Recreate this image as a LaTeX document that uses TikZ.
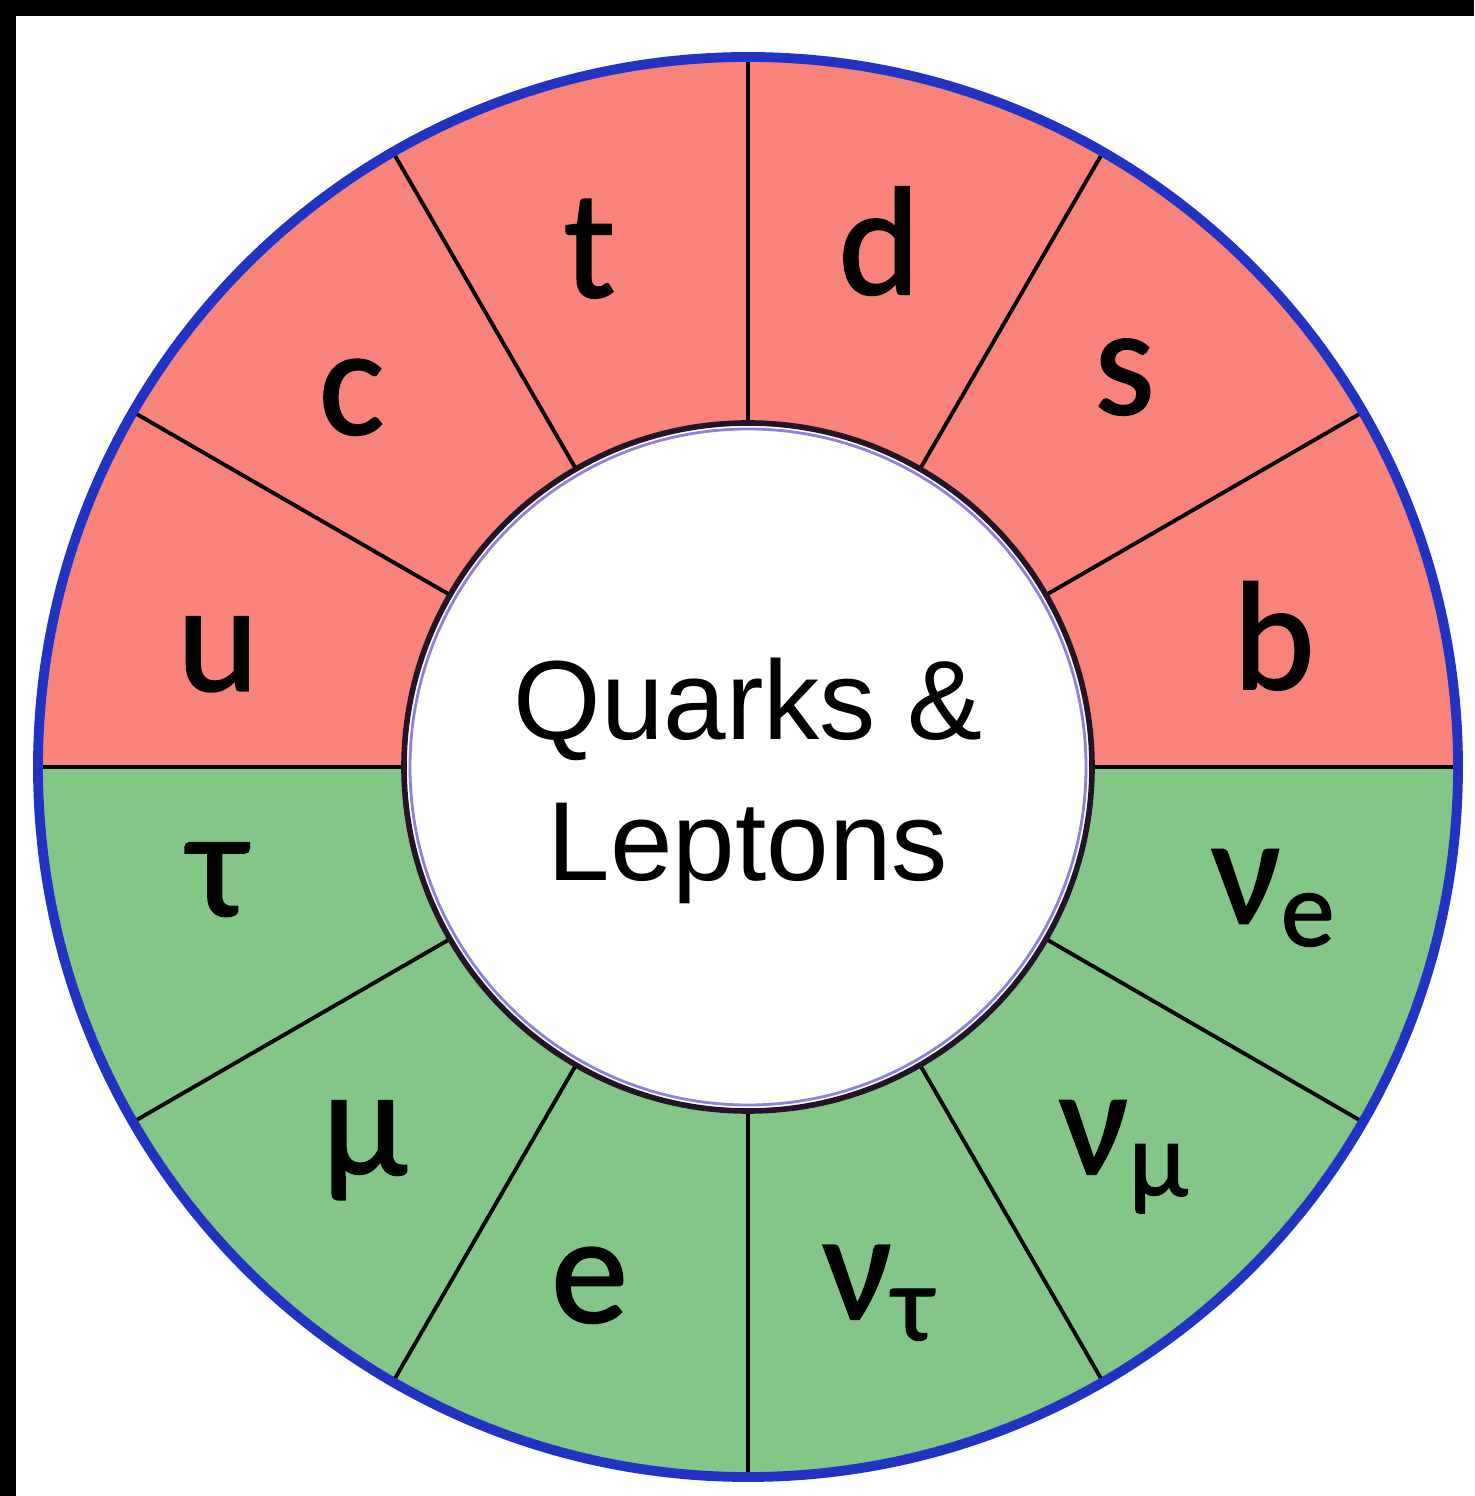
\documentclass[tikz,border=0pt]{standalone}
\usepackage{fontspec}
\setmainfont{Liberation Sans}
\newfontfamily\partfont[FakeBold=1.2]{Carlito}
\usetikzlibrary{calc}
\definecolor{QuarkRed}{HTML}{F8837A}
\definecolor{LeptonGreen}{HTML}{84C688}
\definecolor{RimBlue}{HTML}{2233C4}
\definecolor{HubEdge}{HTML}{24142A}
\definecolor{HubHalo}{HTML}{8C82D8}
\tikzset{
  % ring sector fill
  wedge/.style={fill=#1, draw=none},
  % spoke between sectors
  spoke/.style={draw=black, line width=1.1pt},
  % particle symbol
  sym/.style={font=\partfont\fontsize{44}{44}\selectfont,
    text=black, inner sep=0pt},
  % centre title
  hub/.style={font=\fontsize{32}{40}\selectfont, align=center, inner sep=0pt}
}

\begin{document}
\begin{tikzpicture}

  \useasboundingbox (-7.48,-7.29) rectangle (7.26,7.67);

  % frame edges (top and left)
  \fill[black] (-7.48,7.51) rectangle (7.26,7.67);
  \fill[black] (-7.48,-7.29) rectangle (-7.32,7.67);

  % quark half and lepton half
  \fill[wedge=QuarkRed] (0:3.44) -- (0:7.10) arc (0:180:7.10) -- (180:3.44) arc (180:0:3.44) -- cycle;
  \fill[wedge=LeptonGreen] (180:3.44) -- (180:7.10) arc (180:360:7.10) -- (360:3.44) arc (360:180:3.44) -- cycle;

  % spokes
  \foreach \a in {0,30,...,330}
    \draw[spoke] (\a:3.40) -- (\a:7.10);

  % rims
  \draw[RimBlue, line width=2.8pt] (0,0) circle (7.10);
  \draw[HubEdge, line width=1.6pt, fill=white] (0,0) circle (3.44);
  \draw[HubHalo, line width=0.8pt] (0,0) circle (3.38);

  % quarks
  \foreach \n/\a/\t in {u/168/u, c/137/c, t/107/t, d/76/d, s/46/s, b/14/b}
    \node[sym] (\n) at (\a:5.42) {\t};

  % leptons
  \foreach \n/\a/\t in {tau/192/τ, mu/225/μ, e/253/e,
      nutau/284/ν\textsubscript{τ}, numu/314/ν\textsubscript{μ}, nue/346/ν\textsubscript{e}}
    \node[sym] (\n) at (\a:5.42) {\t};

  % title
  \node[hub] (title) at (0,-0.14) {Quarks \&\\Leptons};

\end{tikzpicture}
\end{document}
